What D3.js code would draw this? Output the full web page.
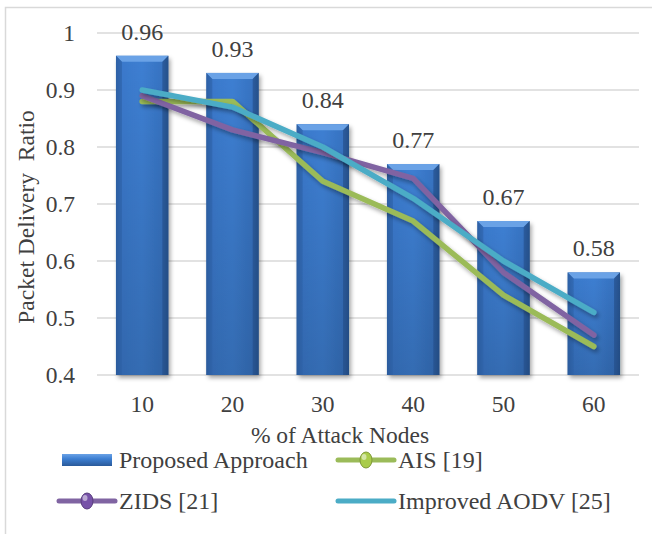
<!DOCTYPE html>
<html><head><meta charset="utf-8">
<script src="https://cdn.jsdelivr.net/npm/d3@7"></script>
<style>body{margin:0;background:#fff}svg{display:block}svg text{font-family:"Liberation Serif","DejaVu Serif","Times New Roman",Times,serif !important;fill:#404040}</style>
</head><body><svg id="c" width="652" height="534"></svg>
<script>
const categories = ["10","20","30","40","50","60"];
const proposed = [0.96,0.93,0.84,0.77,0.67,0.58];
const ais = [0.88,0.88,0.74,0.67,0.54,0.45];
const zids = [0.89,0.83,0.79,0.745,0.58,0.47];
const aodv = [0.90,0.87,0.80,0.71,0.60,0.51];
const yTicks = [0.4,0.5,0.6,0.7,0.8,0.9,1];
const seriesNames = ["Proposed Approach","AIS [19]","ZIDS [21]","Improved AODV [25]"];

(function(){
const FONT = "'Liberation Serif','DejaVu Serif','Times New Roman',serif";
const FS = 23.5;
const svg = d3.select("#c");
const defs = svg.append("defs");
const g1 = defs.append("linearGradient").attr("id","barg").attr("x1","0").attr("x2","1").attr("y1","0").attr("y2","0");
g1.append("stop").attr("offset","0").attr("stop-color","#2c5fa3");
g1.append("stop").attr("offset","0.12").attr("stop-color","#3a79cc");
g1.append("stop").attr("offset","0.5").attr("stop-color","#3d7fd2");
g1.append("stop").attr("offset","0.88").attr("stop-color","#3773c2");
g1.append("stop").attr("offset","1").attr("stop-color","#27558f");
const g2 = defs.append("linearGradient").attr("id","barv").attr("x1","0").attr("x2","0").attr("y1","0").attr("y2","1");
g2.append("stop").attr("offset","0").attr("stop-color","#000").attr("stop-opacity",0);
g2.append("stop").attr("offset","1").attr("stop-color","#000").attr("stop-opacity",0.15);
const f = defs.append("filter").attr("id","sh").attr("x","-20%").attr("y","-20%").attr("width","150%").attr("height","150%");
f.append("feDropShadow").attr("dx",2).attr("dy",3).attr("stdDeviation",2).attr("flood-color","#000").attr("flood-opacity",0.35);

svg.append("rect").attr("x",5.5).attr("y",7.5).attr("width",700).attr("height",600)
  .attr("fill","none").attr("stroke","#d9d9d9").attr("stroke-width",1.5);

const pl=97, pr=639, pt=33, pb=375;
const x = d3.scaleBand().domain(categories).range([pl,pr]).paddingInner(0.42).paddingOuter(0.21);
const y = d3.scaleLinear().domain([0.4,1]).range([pb,pt]);

svg.append("g").selectAll("line").data(yTicks).join("line")
  .attr("x1",pl).attr("x2",pr).attr("y1",d=>y(d)).attr("y2",d=>y(d))
  .attr("stroke","#d9d9d9").attr("stroke-width",1.5);

const yAxis = d3.axisLeft(y).tickValues(yTicks).tickSize(0).tickPadding(22).tickFormat(d=>d===1?"1":d3.format(".1f")(d));
const ya = svg.append("g").attr("transform",`translate(${pl},0)`).call(yAxis).attr("font-family",FONT).attr("font-size",FS);
ya.select(".domain").remove();
ya.selectAll("text").attr("fill","#404040");

const xAxis = d3.axisBottom(x).tickSize(0).tickPadding(20);
const xa = svg.append("g").attr("transform",`translate(0,${pb})`).call(xAxis).attr("font-family",FONT).attr("font-size",FS);
xa.select(".domain").remove();
xa.selectAll("text").attr("fill","#404040");

const bw = x.bandwidth();
const bars = svg.append("g").selectAll("g").data(proposed).join("g");
bars.append("rect").attr("x",(d,i)=>x(categories[i])).attr("y",d=>y(d)).attr("width",bw).attr("height",d=>y(0.4)-y(d))
  .attr("fill","url(#barg)").attr("filter","url(#sh)");
bars.append("rect").attr("x",(d,i)=>x(categories[i])).attr("y",d=>y(d)).attr("width",bw).attr("height",d=>y(0.4)-y(d))
  .attr("fill","url(#barv)");
bars.append("path").attr("d",(d,i)=>{const x0=x(categories[i]),y0=y(d),b=6;
  return `M${x0},${y0}L${x0+bw},${y0}L${x0+bw-b},${y0+b}L${x0+b},${y0+b}Z`;}).attr("fill","#6aa2e6");
bars.append("path").attr("d",(d,i)=>{const x0=x(categories[i]),y0=y(d),b=6;
  return `M${x0},${y0}L${x0+b},${y0+b}L${x0+b},${y(0.4)}L${x0},${y(0.4)}Z`;}).attr("fill","#2f63a8").attr("opacity",0.6);
bars.append("path").attr("d",(d,i)=>{const x0=x(categories[i]),y0=y(d),b=6;
  return `M${x0+bw},${y0}L${x0+bw-b},${y0+b}L${x0+bw-b},${y(0.4)}L${x0+bw},${y(0.4)}Z`;}).attr("fill","#244f88").attr("opacity",0.6);
bars.append("text").attr("x",(d,i)=>x(categories[i])+bw/2).attr("y",d=>y(d)-16).attr("text-anchor","middle")
  .attr("font-family",FONT).attr("font-size",24).text(d=>d3.format(".2f")(d));

const cx = i => x(categories[i])+bw/2;
const line = d3.line().x((d,i)=>cx(i)).y(d=>y(d));
const lineSeries = [{v:ais,c:"#9bbb59"},{v:zids,c:"#8064a2"},{v:aodv,c:"#4bacc6"}];
svg.append("g").selectAll("path").data(lineSeries).join("path")
  .attr("d",d=>line(d.v)).attr("fill","none").attr("stroke",d=>d.c).attr("stroke-width",5.5)
  .attr("stroke-linejoin","round").attr("stroke-linecap","round").attr("filter","url(#sh)");

svg.append("text").attr("transform","translate(34,217) rotate(-90)").attr("text-anchor","middle")
  .attr("font-family",FONT).attr("font-size",FS).attr("xml:space","preserve").style("white-space","pre").text("Packet Delivery  Ratio");
svg.append("text").attr("x",340).attr("y",443).attr("text-anchor","middle").attr("font-family",FONT).attr("font-size",FS).text("% of Attack Nodes");

const lg = svg.append("g").attr("font-family",FONT).attr("font-size",24);
const gl = defs.append("linearGradient").attr("id","legb").attr("x1","0").attr("x2","0").attr("y1","0").attr("y2","1");
gl.append("stop").attr("offset","0").attr("stop-color","#6aa2e6");
gl.append("stop").attr("offset","0.4").attr("stop-color","#3d7fd2");
gl.append("stop").attr("offset","1").attr("stop-color","#2a5a9a");
lg.append("rect").attr("x",62).attr("y",454).attr("width",50).attr("height",12).attr("fill","url(#legb)");
const legItems = [
  {name:seriesNames[1],c:"#9bbb59",x:338,y:460,marker:true,mc:"#a9cc4a"},
  {name:seriesNames[2],c:"#8064a2",x:59,y:501,marker:true,mc:"#7752a8"},
  {name:seriesNames[3],c:"#4bacc6",x:338,y:501,marker:false}
];
lg.append("text").attr("x",119).attr("y",468).text(seriesNames[0]);
legItems.forEach(it=>{
  lg.append("line").attr("x1",it.x).attr("x2",it.x+56).attr("y1",it.y).attr("y2",it.y)
    .attr("stroke",it.c).attr("stroke-width",5).attr("stroke-linecap","round");
  if(it.marker){
    lg.append("ellipse").attr("cx",it.x+28).attr("cy",it.y).attr("rx",6).attr("ry",8).attr("fill",it.mc).attr("stroke",d3.color(it.mc).darker(0.8)).attr("stroke-width",1);
    lg.append("ellipse").attr("cx",it.x+26).attr("cy",it.y-3).attr("rx",2.5).attr("ry",3).attr("fill","#fff").attr("opacity",0.5);
  }
  lg.append("text").attr("x",it.x+60).attr("y",it.y+8).text(it.name);
});
})();
</script></body></html>
